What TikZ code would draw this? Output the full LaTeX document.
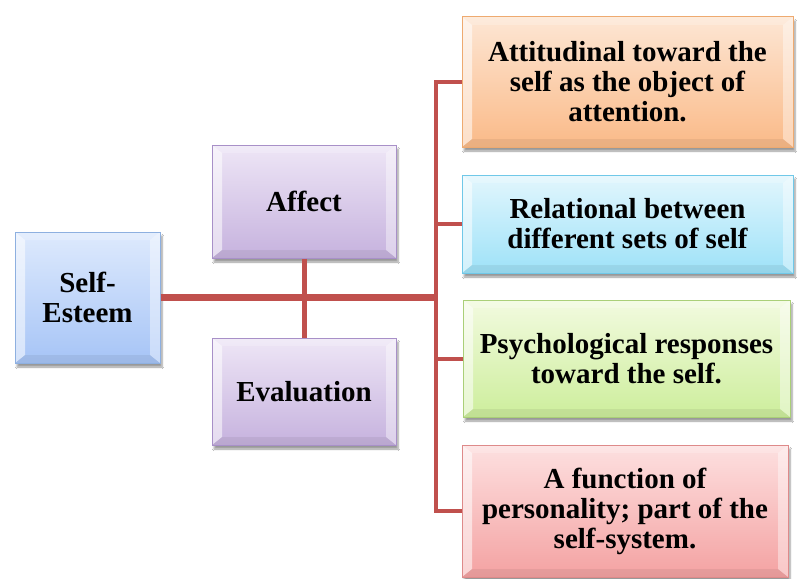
\documentclass[tikz,border=0pt]{standalone}
\usepackage{fontspec}
\setmainfont{Liberation Serif}
\usetikzlibrary{shadows.blur}
\definecolor{linered}{HTML}{C0504D}
\definecolor{seTop}{HTML}{DEEAFD}
\definecolor{seBot}{HTML}{A6C4F6}
\definecolor{seBrd}{HTML}{8EB0E0}
\definecolor{puTop}{HTML}{EEE6F6}
\definecolor{puBot}{HTML}{C6B2DE}
\definecolor{puBrd}{HTML}{A890C8}
\definecolor{orTop}{HTML}{FDE6D4}
\definecolor{orBot}{HTML}{FABA88}
\definecolor{orBrd}{HTML}{EEAA70}
\definecolor{cyTop}{HTML}{E2F6FD}
\definecolor{cyBot}{HTML}{9EE2F8}
\definecolor{cyBrd}{HTML}{70C8E8}
\definecolor{grTop}{HTML}{F2FADF}
\definecolor{grBot}{HTML}{CDEE9C}
\definecolor{grBrd}{HTML}{AACF78}
\definecolor{rdTop}{HTML}{FDE0E0}
\definecolor{rdBot}{HTML}{F4A2A2}
\definecolor{rdBrd}{HTML}{DE8A8A}
\tikzset{
  box/.style n args={3}{
    top color=#1, bottom color=#2, draw=#3, line width=1pt,
    inner sep=0pt, align=center,
    font=\fontsize{29}{30}\selectfont\bfseries,
    blur shadow={shadow xshift=2pt, shadow yshift=-4pt, shadow blur steps=6, shadow opacity=40},
    path picture={
      \fill[white,opacity=0.55] (path picture bounding box.north west) -- (path picture bounding box.south west)
        -- ([shift={(10pt,8pt)}]path picture bounding box.south west) -- ([shift={(10pt,-8pt)}]path picture bounding box.north west) -- cycle;
      \fill[white,opacity=0.4] (path picture bounding box.north east) -- (path picture bounding box.south east)
        -- ([shift={(-10pt,8pt)}]path picture bounding box.south east) -- ([shift={(-10pt,-8pt)}]path picture bounding box.north east) -- cycle;
      \fill[white,opacity=0.2] (path picture bounding box.north west) -- (path picture bounding box.north east)
        -- ([shift={(-10pt,-8pt)}]path picture bounding box.north east) -- ([shift={(10pt,-8pt)}]path picture bounding box.north west) -- cycle;
      \fill[black,opacity=0.06] (path picture bounding box.south west) -- (path picture bounding box.south east)
        -- ([shift={(-10pt,8pt)}]path picture bounding box.south east) -- ([shift={(10pt,8pt)}]path picture bounding box.south west) -- cycle;
    }
  },
  mainline/.style={draw=linered, line width=7pt},
  busline/.style={draw=linered, line width=4pt},
  tieline/.style={draw=linered, line width=5pt}
}
\begin{document}
\begin{tikzpicture}[x=1pt,y=-1pt]
\useasboundingbox[fill=white] (0,0) rectangle (797,578);
% nodes
\node[box={seTop}{seBot}{seBrd}, minimum width=145pt, minimum height=131pt] (se) at (87.5,297.5) {Self-\\Esteem};
\node[box={puTop}{puBot}{puBrd}, minimum width=184pt, minimum height=113pt] (aff) at (304,201.5) {Affect};
\node[box={puTop}{puBot}{puBrd}, minimum width=184pt, minimum height=107pt] (eva) at (304,391.5) {Evaluation};
\node[box={orTop}{orBot}{orBrd}, minimum width=331pt, minimum height=130pt] (att) at (627.5,82) {Attitudinal toward the\\self as the object of\\attention.};
\node[box={cyTop}{cyBot}{cyBrd}, minimum width=331pt, minimum height=98pt] (rel) at (627.5,224) {Relational between\\different sets of self};
\node[box={grTop}{grBot}{grBrd}, minimum width=327pt, minimum height=117pt] (psy) at (626.5,358.5) {Psychological responses\\toward the self.};
\node[box={rdTop}{rdBot}{rdBrd}, minimum width=326pt, minimum height=132pt] (fun) at (625,511) {A function of\\personality; part of the\\self-system.};
\coordinate (bus) at (436,297);
% connectors
\draw[tieline] (aff.south) -- (eva.north);
\draw[mainline] (se.east) -- (se.east -| bus);
\draw[busline] (att.west) -- (att.west -| bus) -- (fun.west -| bus) -- (fun.west);
\draw[busline] (rel.west) -- (rel.west -| bus);
\draw[busline] (psy.west) -- (psy.west -| bus);
\end{tikzpicture}
\end{document}
